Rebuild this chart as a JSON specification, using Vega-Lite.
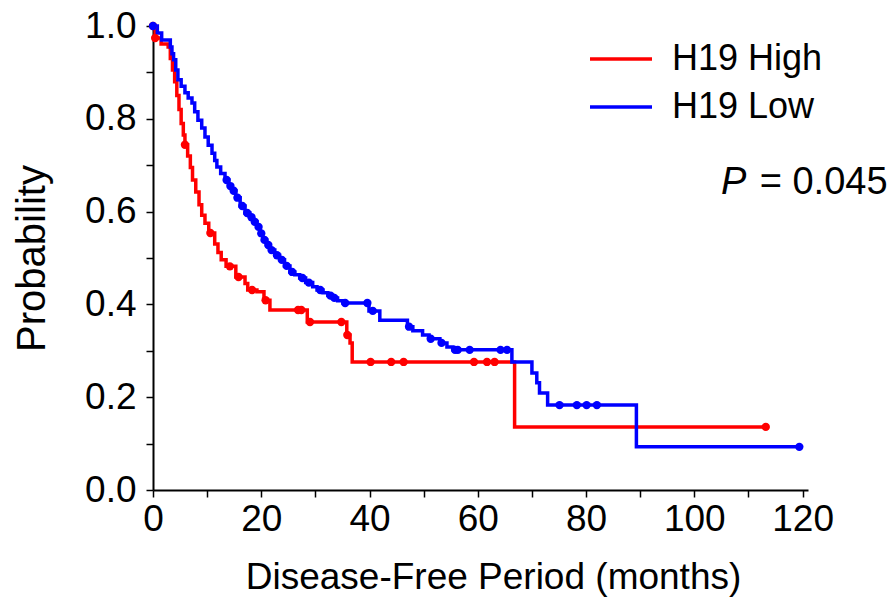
{
  "$schema": "https://vega.github.io/schema/vega-lite/v6.json",
  "width": 655,
  "height": 464,
  "autosize": {"type": "none"},
  "padding": {"left": 153, "top": 26, "right": 87, "bottom": 111},
  "background": "white",
  "config": {
    "font": "Liberation Sans",
    "view": {"stroke": null},
    "axis": {
      "grid": false,
      "domainColor": "black",
      "domainWidth": 2,
      "tickColor": "black",
      "tickWidth": 1.5,
      "tickSize": 7,
      "labelColor": "black",
      "labelFontSize": 37,
      "titleColor": "black",
      "titleFontSize": 37,
      "titleFontWeight": "normal"
    }
  },
  "data": {
    "values": [
      {"g": "H19 High", "t": 0, "p": 1.0, "c": 1},
      {"g": "H19 High", "t": 0.4, "p": 0.974, "c": 1},
      {"g": "H19 High", "t": 1.5, "p": 0.961, "c": 0},
      {"g": "H19 High", "t": 2.8, "p": 0.955, "c": 0},
      {"g": "H19 High", "t": 3.2, "p": 0.93, "c": 0},
      {"g": "H19 High", "t": 3.6, "p": 0.905, "c": 0},
      {"g": "H19 High", "t": 4.0, "p": 0.88, "c": 0},
      {"g": "H19 High", "t": 4.4, "p": 0.85, "c": 0},
      {"g": "H19 High", "t": 4.8, "p": 0.82, "c": 0},
      {"g": "H19 High", "t": 5.2, "p": 0.79, "c": 0},
      {"g": "H19 High", "t": 5.6, "p": 0.765, "c": 0},
      {"g": "H19 High", "t": 5.9, "p": 0.744, "c": 1},
      {"g": "H19 High", "t": 6.4, "p": 0.72, "c": 0},
      {"g": "H19 High", "t": 6.9, "p": 0.695, "c": 0},
      {"g": "H19 High", "t": 7.3, "p": 0.668, "c": 0},
      {"g": "H19 High", "t": 7.9, "p": 0.642, "c": 0},
      {"g": "H19 High", "t": 8.5, "p": 0.615, "c": 0},
      {"g": "H19 High", "t": 9.0, "p": 0.592, "c": 0},
      {"g": "H19 High", "t": 9.6, "p": 0.575, "c": 0},
      {"g": "H19 High", "t": 10.3, "p": 0.554, "c": 0},
      {"g": "H19 High", "t": 10.6, "p": 0.554, "c": 1},
      {"g": "H19 High", "t": 11.4, "p": 0.53, "c": 0},
      {"g": "H19 High", "t": 12.0, "p": 0.512, "c": 0},
      {"g": "H19 High", "t": 12.6, "p": 0.496, "c": 0},
      {"g": "H19 High", "t": 13.5, "p": 0.482, "c": 0},
      {"g": "H19 High", "t": 14.2, "p": 0.482, "c": 1},
      {"g": "H19 High", "t": 15.3, "p": 0.459, "c": 0},
      {"g": "H19 High", "t": 15.8, "p": 0.459, "c": 1},
      {"g": "H19 High", "t": 17.0, "p": 0.445, "c": 0},
      {"g": "H19 High", "t": 17.5, "p": 0.431, "c": 0},
      {"g": "H19 High", "t": 18.3, "p": 0.431, "c": 1},
      {"g": "H19 High", "t": 19.2, "p": 0.427, "c": 0},
      {"g": "H19 High", "t": 20.5, "p": 0.409, "c": 0},
      {"g": "H19 High", "t": 20.8, "p": 0.409, "c": 1},
      {"g": "H19 High", "t": 21.6, "p": 0.388, "c": 0},
      {"g": "H19 High", "t": 26.8, "p": 0.388, "c": 1},
      {"g": "H19 High", "t": 27.4, "p": 0.388, "c": 1},
      {"g": "H19 High", "t": 28.5, "p": 0.362, "c": 0},
      {"g": "H19 High", "t": 29.0, "p": 0.362, "c": 1},
      {"g": "H19 High", "t": 34.8, "p": 0.362, "c": 1},
      {"g": "H19 High", "t": 35.8, "p": 0.334, "c": 0},
      {"g": "H19 High", "t": 35.9, "p": 0.334, "c": 1},
      {"g": "H19 High", "t": 36.4, "p": 0.317, "c": 0},
      {"g": "H19 High", "t": 36.8, "p": 0.276, "c": 0},
      {"g": "H19 High", "t": 40.2, "p": 0.276, "c": 1},
      {"g": "H19 High", "t": 44.0, "p": 0.276, "c": 1},
      {"g": "H19 High", "t": 46.3, "p": 0.276, "c": 1},
      {"g": "H19 High", "t": 59.3, "p": 0.276, "c": 1},
      {"g": "H19 High", "t": 61.7, "p": 0.276, "c": 1},
      {"g": "H19 High", "t": 63.1, "p": 0.276, "c": 1},
      {"g": "H19 High", "t": 66.8, "p": 0.136, "c": 0},
      {"g": "H19 High", "t": 113.2, "p": 0.136, "c": 1},
      {"g": "H19 Low", "t": 0, "p": 1.0, "c": 1},
      {"g": "H19 Low", "t": 0.8, "p": 0.985, "c": 0},
      {"g": "H19 Low", "t": 1.6, "p": 0.97, "c": 0},
      {"g": "H19 Low", "t": 3.2, "p": 0.955, "c": 0},
      {"g": "H19 Low", "t": 3.5, "p": 0.94, "c": 0},
      {"g": "H19 Low", "t": 3.8, "p": 0.927, "c": 0},
      {"g": "H19 Low", "t": 4.2, "p": 0.905, "c": 0},
      {"g": "H19 Low", "t": 4.6, "p": 0.884, "c": 0},
      {"g": "H19 Low", "t": 5.2, "p": 0.87, "c": 0},
      {"g": "H19 Low", "t": 5.9, "p": 0.856, "c": 0},
      {"g": "H19 Low", "t": 6.5, "p": 0.845, "c": 0},
      {"g": "H19 Low", "t": 7.2, "p": 0.834, "c": 0},
      {"g": "H19 Low", "t": 7.7, "p": 0.815, "c": 0},
      {"g": "H19 Low", "t": 8.3, "p": 0.797, "c": 0},
      {"g": "H19 Low", "t": 9.0, "p": 0.78, "c": 0},
      {"g": "H19 Low", "t": 9.6, "p": 0.761, "c": 0},
      {"g": "H19 Low", "t": 10.2, "p": 0.743, "c": 0},
      {"g": "H19 Low", "t": 10.9, "p": 0.726, "c": 0},
      {"g": "H19 Low", "t": 11.4, "p": 0.71, "c": 0},
      {"g": "H19 Low", "t": 11.8, "p": 0.696, "c": 0},
      {"g": "H19 Low", "t": 12.5, "p": 0.682, "c": 0},
      {"g": "H19 Low", "t": 13.3, "p": 0.668, "c": 0},
      {"g": "H19 Low", "t": 13.6, "p": 0.668, "c": 1},
      {"g": "H19 Low", "t": 14.0, "p": 0.655, "c": 0},
      {"g": "H19 Low", "t": 14.3, "p": 0.655, "c": 1},
      {"g": "H19 Low", "t": 14.6, "p": 0.645, "c": 0},
      {"g": "H19 Low", "t": 14.9, "p": 0.645, "c": 1},
      {"g": "H19 Low", "t": 15.3, "p": 0.63, "c": 0},
      {"g": "H19 Low", "t": 15.6, "p": 0.63, "c": 1},
      {"g": "H19 Low", "t": 16.1, "p": 0.612, "c": 0},
      {"g": "H19 Low", "t": 16.5, "p": 0.612, "c": 1},
      {"g": "H19 Low", "t": 17.0, "p": 0.597, "c": 0},
      {"g": "H19 Low", "t": 17.4, "p": 0.597, "c": 1},
      {"g": "H19 Low", "t": 17.9, "p": 0.588, "c": 0},
      {"g": "H19 Low", "t": 18.2, "p": 0.588, "c": 1},
      {"g": "H19 Low", "t": 18.5, "p": 0.578, "c": 0},
      {"g": "H19 Low", "t": 18.8, "p": 0.578, "c": 1},
      {"g": "H19 Low", "t": 19.2, "p": 0.567, "c": 0},
      {"g": "H19 Low", "t": 19.5, "p": 0.567, "c": 1},
      {"g": "H19 Low", "t": 19.8, "p": 0.553, "c": 0},
      {"g": "H19 Low", "t": 20.0, "p": 0.553, "c": 1},
      {"g": "H19 Low", "t": 20.3, "p": 0.539, "c": 0},
      {"g": "H19 Low", "t": 20.6, "p": 0.539, "c": 1},
      {"g": "H19 Low", "t": 21.0, "p": 0.528, "c": 0},
      {"g": "H19 Low", "t": 21.3, "p": 0.528, "c": 1},
      {"g": "H19 Low", "t": 21.6, "p": 0.517, "c": 0},
      {"g": "H19 Low", "t": 21.9, "p": 0.517, "c": 1},
      {"g": "H19 Low", "t": 22.5, "p": 0.506, "c": 0},
      {"g": "H19 Low", "t": 22.9, "p": 0.506, "c": 1},
      {"g": "H19 Low", "t": 23.4, "p": 0.496, "c": 0},
      {"g": "H19 Low", "t": 23.8, "p": 0.496, "c": 1},
      {"g": "H19 Low", "t": 24.3, "p": 0.483, "c": 0},
      {"g": "H19 Low", "t": 24.7, "p": 0.483, "c": 1},
      {"g": "H19 Low", "t": 25.3, "p": 0.47, "c": 0},
      {"g": "H19 Low", "t": 25.7, "p": 0.47, "c": 1},
      {"g": "H19 Low", "t": 26.2, "p": 0.464, "c": 0},
      {"g": "H19 Low", "t": 27.1, "p": 0.457, "c": 0},
      {"g": "H19 Low", "t": 27.6, "p": 0.457, "c": 1},
      {"g": "H19 Low", "t": 28.2, "p": 0.447, "c": 0},
      {"g": "H19 Low", "t": 28.8, "p": 0.447, "c": 1},
      {"g": "H19 Low", "t": 29.5, "p": 0.438, "c": 0},
      {"g": "H19 Low", "t": 30.3, "p": 0.431, "c": 0},
      {"g": "H19 Low", "t": 30.9, "p": 0.431, "c": 1},
      {"g": "H19 Low", "t": 31.4, "p": 0.425, "c": 0},
      {"g": "H19 Low", "t": 32.3, "p": 0.419, "c": 0},
      {"g": "H19 Low", "t": 32.8, "p": 0.419, "c": 1},
      {"g": "H19 Low", "t": 33.2, "p": 0.414, "c": 0},
      {"g": "H19 Low", "t": 33.5, "p": 0.414, "c": 1},
      {"g": "H19 Low", "t": 34.1, "p": 0.408, "c": 0},
      {"g": "H19 Low", "t": 35.1, "p": 0.403, "c": 0},
      {"g": "H19 Low", "t": 35.5, "p": 0.403, "c": 1},
      {"g": "H19 Low", "t": 39.6, "p": 0.403, "c": 1},
      {"g": "H19 Low", "t": 39.9, "p": 0.386, "c": 0},
      {"g": "H19 Low", "t": 40.6, "p": 0.386, "c": 1},
      {"g": "H19 Low", "t": 41.9, "p": 0.366, "c": 0},
      {"g": "H19 Low", "t": 47.0, "p": 0.352, "c": 0},
      {"g": "H19 Low", "t": 47.3, "p": 0.352, "c": 1},
      {"g": "H19 Low", "t": 48.0, "p": 0.343, "c": 0},
      {"g": "H19 Low", "t": 49.8, "p": 0.334, "c": 0},
      {"g": "H19 Low", "t": 51.0, "p": 0.326, "c": 0},
      {"g": "H19 Low", "t": 51.3, "p": 0.326, "c": 1},
      {"g": "H19 Low", "t": 53.0, "p": 0.317, "c": 0},
      {"g": "H19 Low", "t": 53.3, "p": 0.317, "c": 1},
      {"g": "H19 Low", "t": 54.3, "p": 0.308, "c": 0},
      {"g": "H19 Low", "t": 55.4, "p": 0.302, "c": 0},
      {"g": "H19 Low", "t": 55.8, "p": 0.302, "c": 1},
      {"g": "H19 Low", "t": 56.3, "p": 0.302, "c": 1},
      {"g": "H19 Low", "t": 58.5, "p": 0.302, "c": 1},
      {"g": "H19 Low", "t": 64.2, "p": 0.302, "c": 1},
      {"g": "H19 Low", "t": 65.4, "p": 0.302, "c": 1},
      {"g": "H19 Low", "t": 66.3, "p": 0.276, "c": 0},
      {"g": "H19 Low", "t": 70.0, "p": 0.252, "c": 0},
      {"g": "H19 Low", "t": 70.9, "p": 0.231, "c": 0},
      {"g": "H19 Low", "t": 71.4, "p": 0.209, "c": 0},
      {"g": "H19 Low", "t": 72.9, "p": 0.183, "c": 0},
      {"g": "H19 Low", "t": 75.1, "p": 0.183, "c": 1},
      {"g": "H19 Low", "t": 78.3, "p": 0.183, "c": 1},
      {"g": "H19 Low", "t": 80.1, "p": 0.183, "c": 1},
      {"g": "H19 Low", "t": 82.0, "p": 0.183, "c": 1},
      {"g": "H19 Low", "t": 89.3, "p": 0.093, "c": 0},
      {"g": "H19 Low", "t": 119.4, "p": 0.093, "c": 1}
    ]
  },
  "encoding": {
    "x": {
      "field": "t",
      "type": "quantitative",
      "scale": {"domain": [0, 121], "nice": false, "zero": false},
      "axis": {
        "title": "Disease-Free Period (months)",
        "values": [0, 10, 20, 30, 40, 50, 60, 70, 80, 90, 100, 110, 120],
        "labelExpr": "datum.value % 20 == 0 ? datum.label : ''",
        "labelPadding": 4,
        "titlePadding": 22,
        "titleX": 340,
        "labelFlush": false,
        "labelOverlap": false
      }
    },
    "y": {
      "field": "p",
      "type": "quantitative",
      "scale": {"domain": [0, 1], "nice": false},
      "axis": {
        "title": "Probability",
        "titleFontSize": 40,
        "values": [0, 0.1, 0.2, 0.3, 0.4, 0.5, 0.6, 0.7, 0.8, 0.9, 1.0],
        "labelExpr": "round(datum.value * 10) % 2 == 0 ? format(datum.value, '.1f') : ''",
        "labelPadding": 10,
        "titlePadding": 32,
        "labelFlush": false,
        "labelOverlap": false
      }
    },
    "color": {
      "field": "g",
      "type": "nominal",
      "scale": {"domain": ["H19 High", "H19 Low"], "range": ["#ff0000", "#0000ff"]},
      "legend": {
        "title": null,
        "orient": "none",
        "legendX": 435,
        "legendY": 15,
        "symbolType": "stroke",
        "symbolSize": 3844,
        "symbolStrokeWidth": 3.5,
        "clipHeight": 36,
        "rowPadding": 12,
        "labelFontSize": 36,
        "labelColor": "black",
        "labelOffset": 18,
        "padding": 0,
        "labelLimit": 300
      }
    }
  },
  "layer": [
    {
      "mark": {"type": "line", "interpolate": "step-after", "strokeWidth": 3.5}
    },
    {
      "transform": [{"filter": "datum.c == 1"}],
      "mark": {"type": "point", "filled": true, "size": 70, "opacity": 1}
    },
    {
      "transform": [{"filter": "datum.t == 0 && datum.g == 'H19 High'"}],
      "mark": {"type": "text", "align": "right", "baseline": "middle", "fontSize": 38, "fontStyle": "italic", "color": "black"},
      "encoding": {
        "x": {"datum": 109.6},
        "y": {"datum": 0.662},
        "text": {"value": "P"},
        "color": null
      }
    },
    {
      "transform": [{"filter": "datum.t == 0 && datum.g == 'H19 High'"}],
      "mark": {"type": "text", "align": "right", "baseline": "middle", "fontSize": 38, "color": "black"},
      "encoding": {
        "x": {"datum": 135.7},
        "y": {"datum": 0.662},
        "text": {"value": "= 0.045"},
        "color": null
      }
    }
  ]
}
